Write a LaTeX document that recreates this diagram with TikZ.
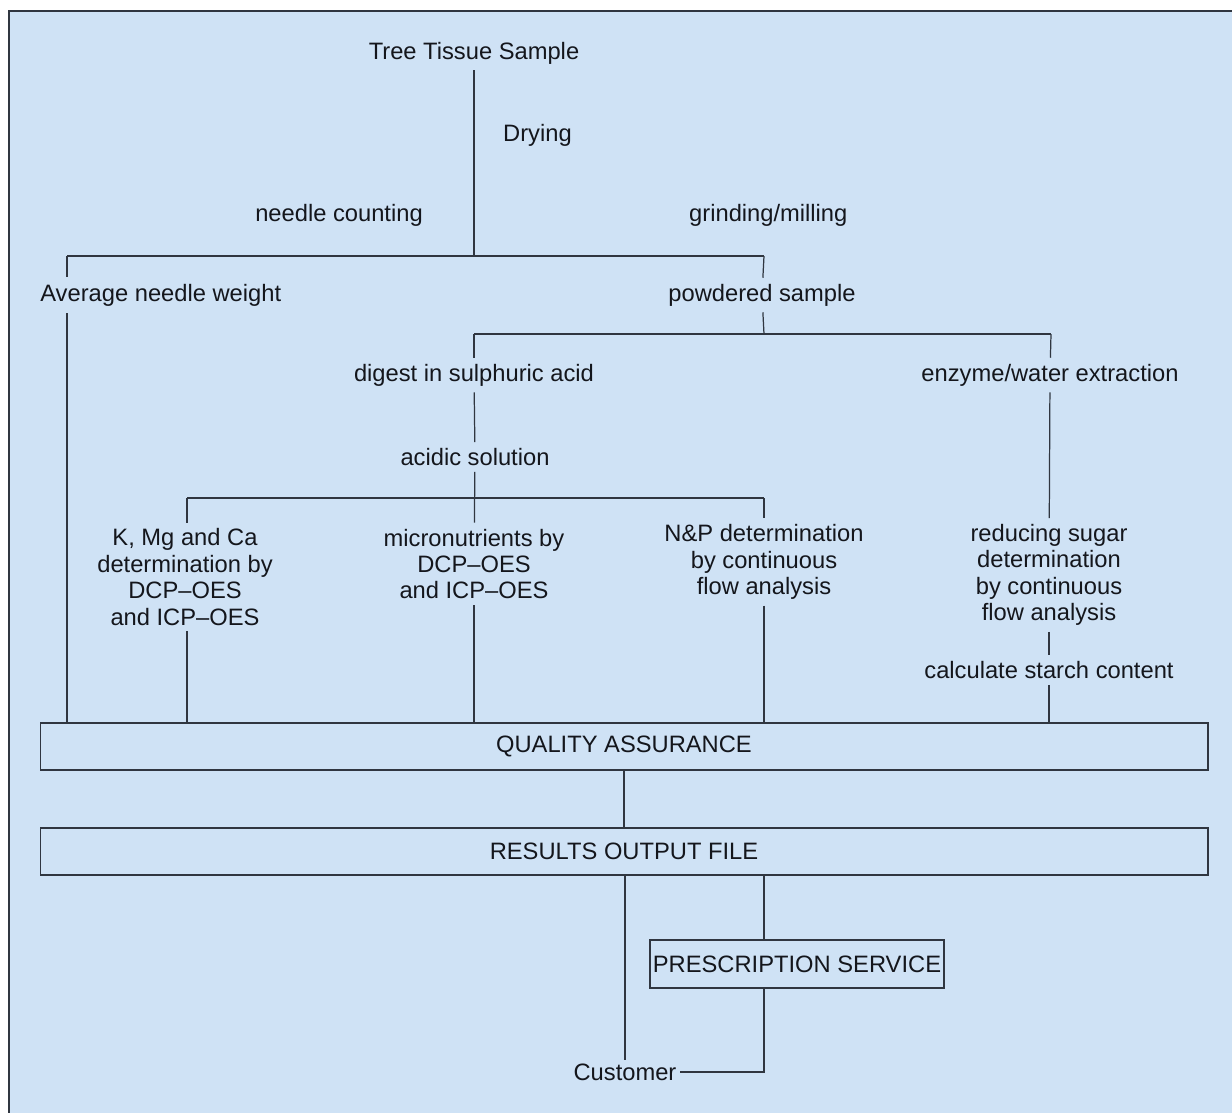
\documentclass[tikz,border=0pt]{standalone}
\usepackage{fontspec}
\setmainfont{Liberation Sans}
\usepackage{tikz}
\usetikzlibrary{calc}

\definecolor{paleblue}{RGB}{207,226,245}
\definecolor{inkline}{RGB}{48,54,64}
\definecolor{inktext}{RGB}{20,22,28}

\begin{document}
\begin{tikzpicture}[x=0.02cm, y=-0.02cm,
      every node/.style={font=\fontsize{13.5}{15}\selectfont, text=inktext},
      lbl/.style={align=center},
      bar/.style={draw=inkline, line width=0.7pt, minimum width=23.36cm,
         minimum height=0.94cm, inner sep=0pt},
      wire/.style={draw=inkline, line width=0.7pt}]
      \useasboundingbox (0,0) rectangle (1232,1113);
      \fill [white] (0,0) rectangle (1232,1113);
      \fill [paleblue] (9,11) rectangle (1232,1113);
      \draw [inkline, line width=1.1pt] (1232,11) -- (9,11) -- (9,1113);

      % sample preparation
      \node (sample) at (474,53) [lbl] {Tree Tissue Sample};
      \node (drying) at (497,135) [lbl, anchor=west] {Drying};
      \node (needle) at (429,215) [lbl, anchor=east] {needle counting};
      \node (grind) at (683,215) [lbl, anchor=west] {grinding/milling};
      \node (avg) at (40,295) [lbl, anchor=west, inner sep=0pt,
         minimum height=0.72cm] {Average needle weight};
      \node (powder) at (762,295) [lbl] {powdered sample};
      \coordinate (split1) at (474,256);
      \coordinate (split1l) at (67,256);
      \coordinate (split1r) at (764,256);

      % digestion and extraction
      \node (digest) at (474,375) [lbl] {digest in sulphuric acid};
      \node (enzyme) at (1050,375) [lbl] {enzyme/water extraction};
      \node (acidic) at (475,457) [lbl] {acidic solution};
      \coordinate (split2l) at (474,334);
      \coordinate (split2r) at (1051,334);
      \coordinate (split3l) at (187,498);
      \coordinate (split3r) at (764,498);

      % determinations
      \node (kmg) at (185,577) [lbl] {K, Mg and Ca\\determination by\\DCP--OES\\and ICP--OES};
      \node (micro) at (474,564) [lbl] {micronutrients by\\DCP--OES\\and ICP--OES};
      \node (np) at (764,562) [lbl] {N\&P determination\\by continuous\\flow analysis};
      \node (sugar) at (1049,575) [lbl] {reducing sugar\\determination\\by continuous\\flow analysis};
      \node (starch) at (1049,670) [lbl] {calculate starch content};

      % output
      \node (qa) at (624,746.5) [bar] {QUALITY ASSURANCE};
      \node (results) at (624,851.5) [bar] {RESULTS OUTPUT FILE};
      \node (presc) at (797,964) [bar, minimum width=5.88cm,
         minimum height=0.96cm] {PRESCRIPTION SERVICE};
      \node (customer) at (625,1072) [lbl, inner sep=2pt] {Customer};
      \coordinate (corner) at (764,1072);

      \draw [wire] (sample) -- (split1);
      \draw [wire] (split1l) -- (split1r);
      \draw [wire] (split1l) -- (split1l |- avg.north);
      \draw [wire] (split1l |- avg.south) -- (split1l |- qa.north);
      \draw [wire] (split1r) -- (powder);
      \draw [wire] (powder) -- (split1r |- split2l);
      \draw [wire] (split2l) -- (split2r);
      \draw [wire] (split2l) -- (digest);
      \draw [wire] (split2r) -- (enzyme);
      \draw [wire] (digest) -- (acidic);
      \draw [wire] (acidic) -- (micro);
      \draw [wire] (split3l) -- (split3r);
      \draw [wire] (split3l) -- (split3l |- kmg.north);
      \draw [wire] (split3r) -- (np);
      \draw [wire] (split3l |- kmg.south) -- (split3l |- qa.north);
      \draw [wire] (micro) -- (micro |- qa.north);
      \draw [wire] (np) -- (np |- qa.north);
      \draw [wire] (enzyme) -- (sugar);
      \draw [wire] (sugar) -- (starch);
      \draw [wire] (starch) -- (starch |- qa.north);
      \draw [wire] (qa) -- (results);
      \draw [wire] (customer |- results.south) -- (customer);
      \draw [wire] (corner |- results.south) -- (corner |- presc.north);
      \draw [wire] (corner |- presc.south) -- (corner) -- (customer.east);
   \end{tikzpicture}
\end{document}
